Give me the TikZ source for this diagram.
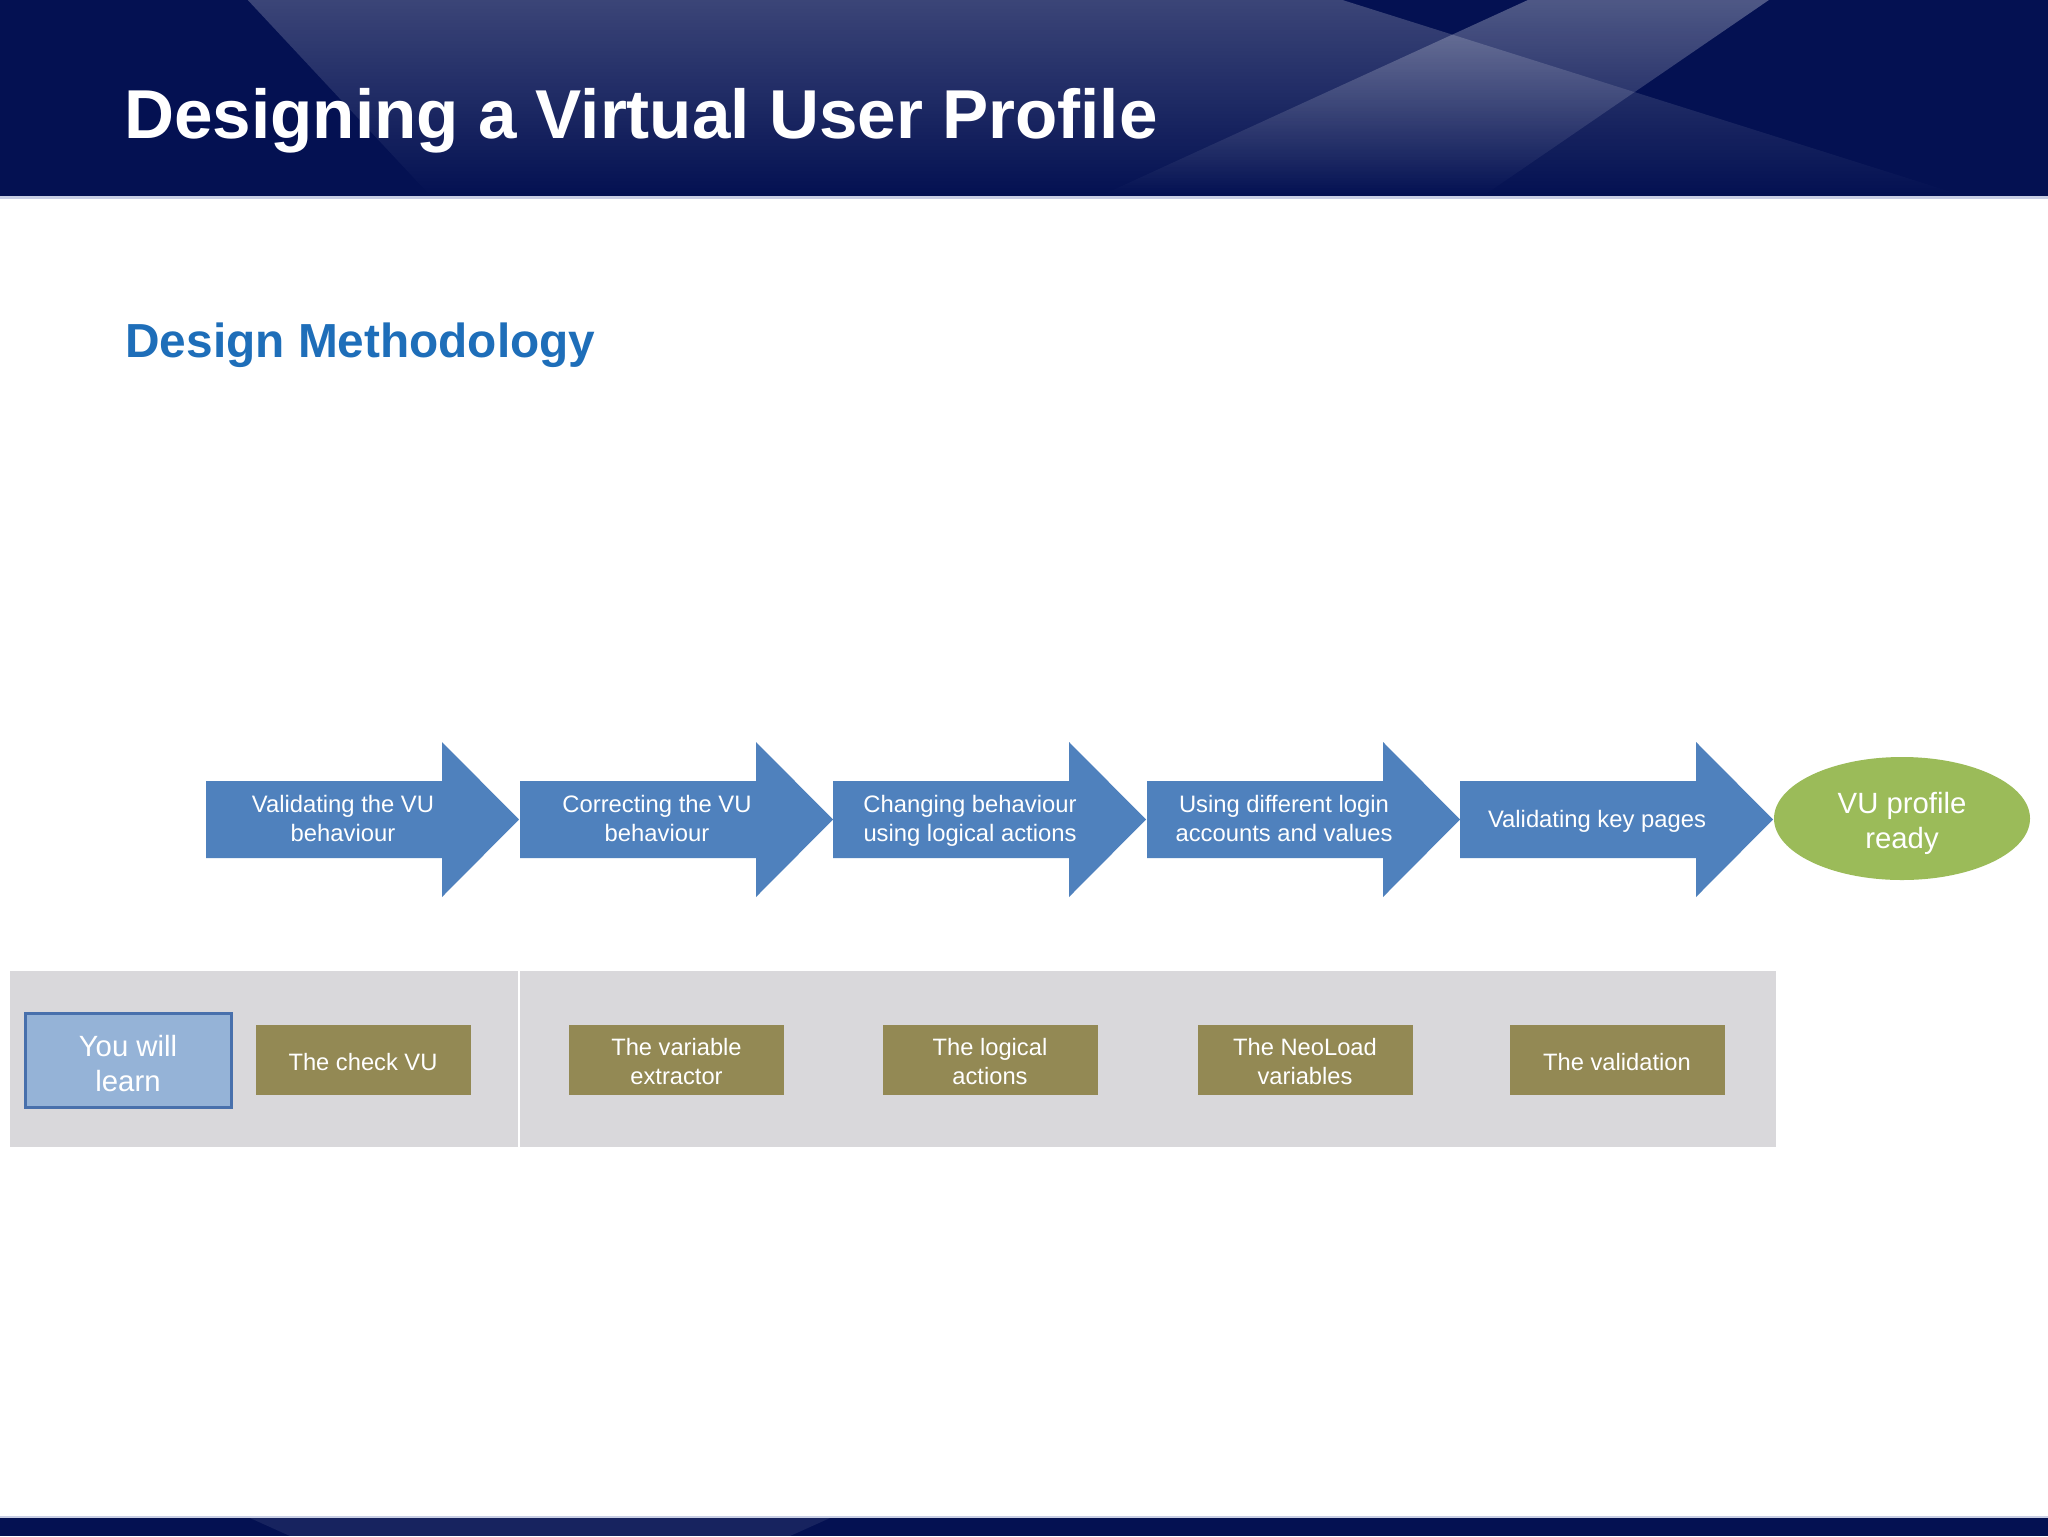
\documentclass[tikz,border=0pt]{standalone}
\usepackage{fontspec}
\setmainfont{Liberation Sans}
\usetikzlibrary{shapes.geometric,fadings}
\definecolor{navy}{RGB}{4,17,82}
\definecolor{arrowblue}{RGB}{79,129,189}
\definecolor{readygreen}{RGB}{155,187,89}
\definecolor{learnfill}{RGB}{149,179,215}
\definecolor{learnborder}{RGB}{72,112,172}
\definecolor{olivebox}{RGB}{147,137,84}
\definecolor{bandgray}{RGB}{217,216,219}
\definecolor{headblue}{RGB}{30,110,185}
\definecolor{rulelight}{RGB}{200,206,228}
\tikzfading[name=beamfade, top color=transparent!78, bottom color=transparent!100]
\tikzfading[name=beamfadeB, top color=transparent!70, bottom color=transparent!100]
\newcommand\nolsl{\lineskiplimit=-50pt\relax}
% line struts
\newcommand\ls{\rule[-2.5pt]{0pt}{15pt}}
\newcommand\es{\rule[-3.1pt]{0pt}{13.8pt}}
\newcommand\procarrow[3]{%
  \fill[arrowblue] (#1,781) -- ++(236,0) -- ++(0,-39) -- ++(77,77.5) -- ++(-77,77.5) -- ++(0,-39) -- ++(-236,0) -- cycle;
  \node[arrowtext] (#2) at (#1+137,817) {#3};}
\begin{document}
\begin{tikzpicture}[x=0.5pt,y=-0.5pt,
  arrowtext/.style={text=white, font=\fontsize{11.9}{14.2}\selectfont\nolsl, align=center, inner sep=0pt},
  olive/.style={fill=olivebox, text=white, minimum width=107.5pt, minimum height=35pt, inner sep=0pt, align=center, font=\fontsize{11.85}{14.5}\selectfont\nolsl},
  learnbox/.style={fill=learnfill, draw=learnborder, line width=1.5pt, text=white, minimum width=103pt, minimum height=47pt, inner sep=0pt, align=center, font=\fontsize{14.65}{17.75}\selectfont\nolsl},
  readyshape/.style={ellipse, fill=readygreen, minimum width=128pt, minimum height=61.5pt, inner sep=0pt},
  readytext/.style={text=white, align=center, inner sep=0pt, font=\fontsize{14.65}{17.5}\selectfont\nolsl}
]
\useasboundingbox (0,0) rectangle (2048,1536);
\fill[white] (0,0) rectangle (2048,1536);
% header
\fill[navy] (0,0) rectangle (2048,196);
\fill[white, path fading=beamfade] (248,0) -- (1343,0) -- (1965,196) -- (431,196) -- cycle;
\fill[white, path fading=beamfadeB] (1528,0) -- (1769,0) -- (1483,196) -- (1100,196) -- cycle;
\draw[rulelight, line width=1.5pt] (0,197.5) -- (2048,197.5);
\node[anchor=base west, inner sep=0pt, text=white, font=\fontsize{34.6}{40}\selectfont\bfseries] (title) at (124,139) {Designing a Virtual User Profile};
% footer
\fill[navy] (0,1518) rectangle (2048,1536);
\fill[white, opacity=0.08] (250,1518) -- (830,1518) -- (790,1536) -- (290,1536) -- cycle;
\draw[rulelight, line width=1pt] (0,1517) -- (2048,1517);
% subtitle
\node[anchor=base west, inner sep=0pt, text=headblue, font=\fontsize{23.9}{28}\selectfont\bfseries] (subtitle) at (125,357) {Design Methodology};
% process arrows
\procarrow{206}{a1}{\ls Validating the VU\\\ls behaviour}
\procarrow{520}{a2}{\ls Correcting the VU\\\ls behaviour}
\procarrow{833}{a3}{\ls Changing behaviour\\\ls using logical actions}
\procarrow{1147}{a4}{\ls Using different login\\\ls accounts and values}
\procarrow{1460}{a5}{\ls Validating key pages}
\node[readyshape] (ready) at (1902,818.5) {};
\node[readytext] (readylabel) at (1902,823) {\es VU profile\\\es ready};
% bottom band
\fill[bandgray] (10,971) rectangle (1776,1147);
\draw[white, line width=1pt] (519,971) -- (519,1147);
\node[learnbox] (learn) at (128,1060) {\rule{0pt}{14pt}You will\\learn};
\node[olive] (b1) at (363,1060) {\ls The check VU};
\node[olive] (b2) at (676.5,1060) {\ls The variable\\\ls extractor};
\node[olive] (b3) at (990,1060) {\ls The logical\\\ls actions};
\node[olive] (b4) at (1305,1060) {\ls The NeoLoad\\\ls variables};
\node[olive] (b5) at (1617,1060) {\ls The validation};
\end{tikzpicture}
\end{document}
